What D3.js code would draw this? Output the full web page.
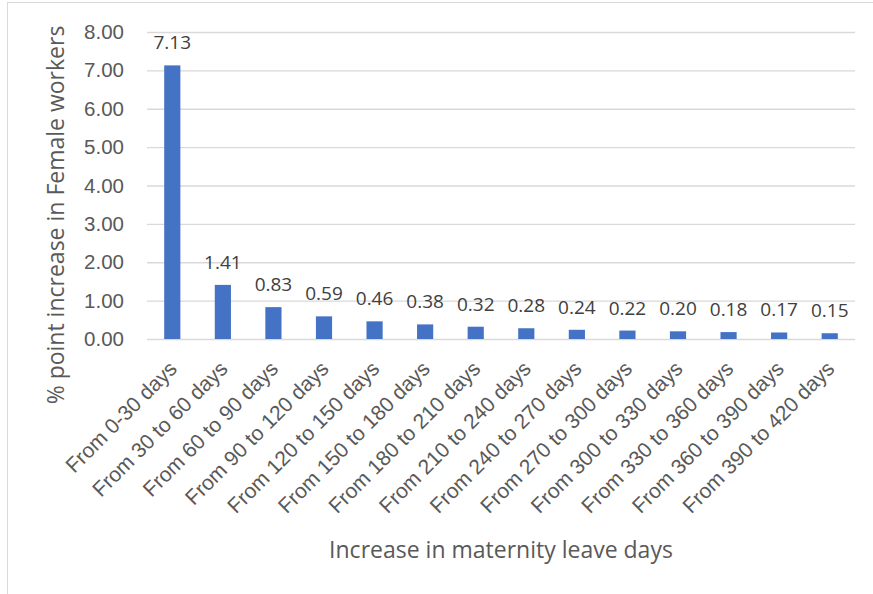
<!DOCTYPE html>
<html>
<head>
<meta charset="utf-8">
<script src="https://cdn.jsdelivr.net/npm/d3@7"></script>
<style>
  body { margin: 0; background: #fff; }
  svg { font-family: "Open Sans", Lato, sans-serif; }
</style>
</head>
<body>
<svg id="chart" width="873" height="594"></svg>
<script>
const categories = ['From 0-30 days', 'From 30 to 60 days', 'From 60 to 90 days', 'From 90 to 120 days',
  'From 120 to 150 days', 'From 150 to 180 days', 'From 180 to 210 days', 'From 210 to 240 days',
  'From 240 to 270 days', 'From 270 to 300 days', 'From 300 to 330 days', 'From 330 to 360 days',
  'From 360 to 390 days', 'From 390 to 420 days']
const values = [7.13, 1.41, 0.83, 0.59, 0.46, 0.38, 0.32, 0.28, 0.24, 0.22, 0.20, 0.18, 0.17, 0.15]
const yTicks = [0, 1, 2, 3, 4, 5, 6, 7, 8]

const svg = d3.select('#chart')
const textColor = '#595959'

// outer chart frame (partly off the picture)
svg.append('rect').attr('x', 7.5).attr('y', 2.5).attr('width', 900).attr('height', 700)
  .attr('fill', 'none').attr('stroke', '#d9d9d9')

const plotLeft = 147, plotRight = 855, plotTop = 32, plotBottom = 339

const x = d3.scaleBand().domain(categories).range([plotLeft, plotRight]).paddingInner(0.68).paddingOuter(0.34)
const y = d3.scaleLinear().domain([0, 8]).range([plotBottom, plotTop])

// gridlines
svg.append('g').selectAll('line').data(yTicks).enter().append('line')
  .attr('x1', plotLeft).attr('x2', plotRight)
  .attr('y1', d => y(d) + 0.5).attr('y2', d => y(d) + 0.5)
  .attr('stroke', '#d9d9d9').attr('stroke-width', 1.3)

// y axis
const yAxis = svg.append('g').attr('transform', `translate(${plotLeft - 23},0)`)
  .call(d3.axisLeft(y).tickValues(yTicks).tickFormat(d3.format('.2f')).tickSize(0))
yAxis.select('.domain').remove()
yAxis.selectAll('text').attr('fill', textColor).style('font-size', '20.5px').attr('x', 0)

// bars
svg.append('g').selectAll('rect').data(values).enter().append('rect')
  .attr('x', (d, i) => x(categories[i]))
  .attr('width', x.bandwidth())
  .attr('y', d => y(d))
  .attr('height', d => y(0) - y(d))
  .attr('fill', '#4472C4')

// data labels
svg.append('g').selectAll('text').data(values).enter().append('text')
  .attr('x', (d, i) => x(categories[i]) + x.bandwidth() / 2)
  .attr('y', d => y(d) - 16)
  .attr('text-anchor', 'middle')
  .attr('fill', '#404040')
  .style('font-size', '19px')
  .text(d => d.toFixed(2))

// x axis labels
const xAxis = svg.append('g').attr('transform', `translate(0,${plotBottom})`)
  .call(d3.axisBottom(x).tickSize(0))
xAxis.select('.domain').remove()
xAxis.selectAll('text')
  .attr('fill', textColor)
  .style('font-size', '21px')
  .attr('text-anchor', 'end')
  .attr('dy', 0)
  .attr('transform', 'translate(6,31) rotate(-45)')
  .attr('y', 0).attr('x', 0)

// axis titles
svg.append('text')
  .attr('x', 501).attr('y', 558)
  .attr('text-anchor', 'middle')
  .attr('fill', textColor)
  .style('font-size', '23px')
  .text('Increase in maternity leave days')

svg.append('text')
  .attr('transform', 'translate(64,215) rotate(-90)')
  .attr('text-anchor', 'middle')
  .attr('fill', textColor)
  .style('font-size', '23px')
  .text('% point increase in Female workers')
</script>
</body>
</html>
